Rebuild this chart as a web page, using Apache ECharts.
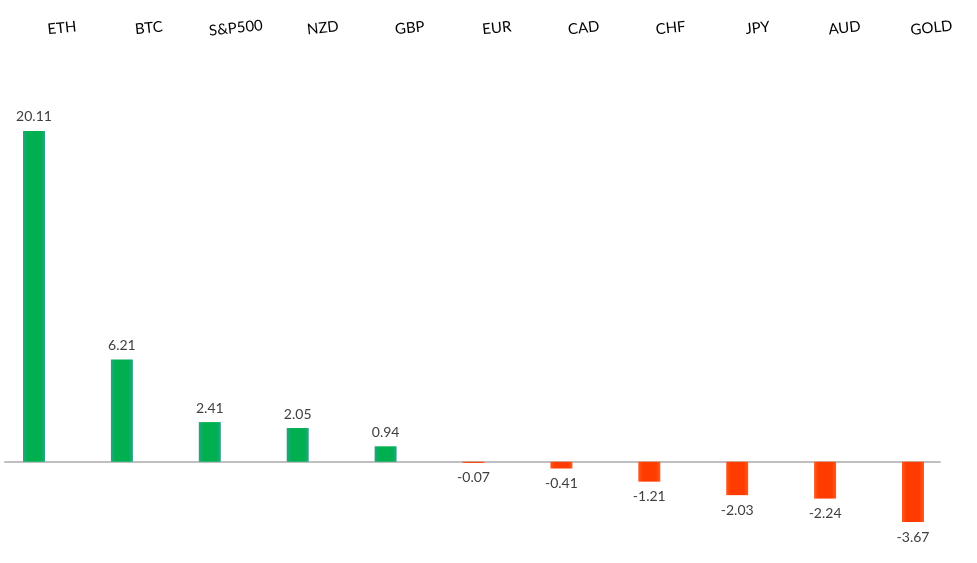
<!DOCTYPE html>
<html>
<head>
<meta charset="utf-8">
<script src="https://cdn.jsdelivr.net/npm/echarts@6/dist/echarts.min.js"></script>
<style>
html,body{margin:0;padding:0;background:#fff;}
#c{width:977px;height:563px;}
</style>
</head>
<body>
<div id="c"></div>
<script>
const categories = ['ETH','BTC','S&P500','NZD','GBP','EUR','CAD','CHF','JPY','AUD','GOLD'];
const values = [20.11, 6.21, 2.41, 2.05, 0.94, -0.07, -0.41, -1.21, -2.03, -2.24, -3.67];

const greenFill = new echarts.graphic.LinearGradient(0, 0, 1, 0, [
  {offset: 0, color: '#27a487'}, {offset: 0.2, color: '#00b050'},
  {offset: 0.8, color: '#00b050'}, {offset: 1, color: '#27a487'}
]);
const redFill = new echarts.graphic.LinearGradient(0, 0, 1, 0, [
  {offset: 0, color: '#ff5a22'}, {offset: 0.2, color: '#ff3c00'},
  {offset: 0.8, color: '#ff3c00'}, {offset: 1, color: '#ff5a22'}
]);

const yMin = -5, yMax = 25;
const chart = echarts.init(document.getElementById('c'));
chart.setOption({
  animation: false,
  backgroundColor: '#ffffff',
  grid: [
    {left: 34, right: 64, top: 50.5, bottom: 19},
    {left: 5, right: 37, top: 50.5, bottom: 19},
    {left: 18.5, right: 2, top: 27, height: 1}
  ],
  xAxis: [
    {gridIndex: 0, type: 'category', data: categories, boundaryGap: false, axisLine: {show: false}, axisTick: {show: false}, axisLabel: {show: false}},
    {gridIndex: 1, type: 'category', data: categories, axisLine: {show: true, onZero: true, lineStyle: {color: '#bfbfbf', width: 2}}, axisTick: {show: false}, axisLabel: {show: false}},
    {gridIndex: 2, type: 'category', data: categories, position: 'bottom', axisLine: {show: false}, axisTick: {show: false},
      axisLabel: {show: true, rotate: 6, margin: 0, align: 'center', verticalAlign: 'middle', hideOverlap: false, color: '#000', fontFamily: 'Lato', fontSize: 15, interval: 0}}
  ],
  yAxis: [
    {gridIndex: 0, type: 'value', min: yMin, max: yMax, show: false},
    {gridIndex: 1, type: 'value', min: yMin, max: yMax, show: false},
    {gridIndex: 2, type: 'value', show: false}
  ],
  series: [{
    type: 'bar',
    xAxisIndex: 0,
    yAxisIndex: 0,
    barWidth: 22,
    data: values.map(v => ({
      value: v,
      itemStyle: {color: v >= 0 ? greenFill : redFill},
      label: {position: v >= 0 ? 'top' : 'bottom', distance: v >= 0 ? 7 : 8}
    })),
    label: {
      show: true,
      color: '#404040',
      fontFamily: 'Lato',
      fontSize: 14,
      formatter: p => p.value.toFixed(2)
    }
  }]
});
</script>
</body>
</html>
